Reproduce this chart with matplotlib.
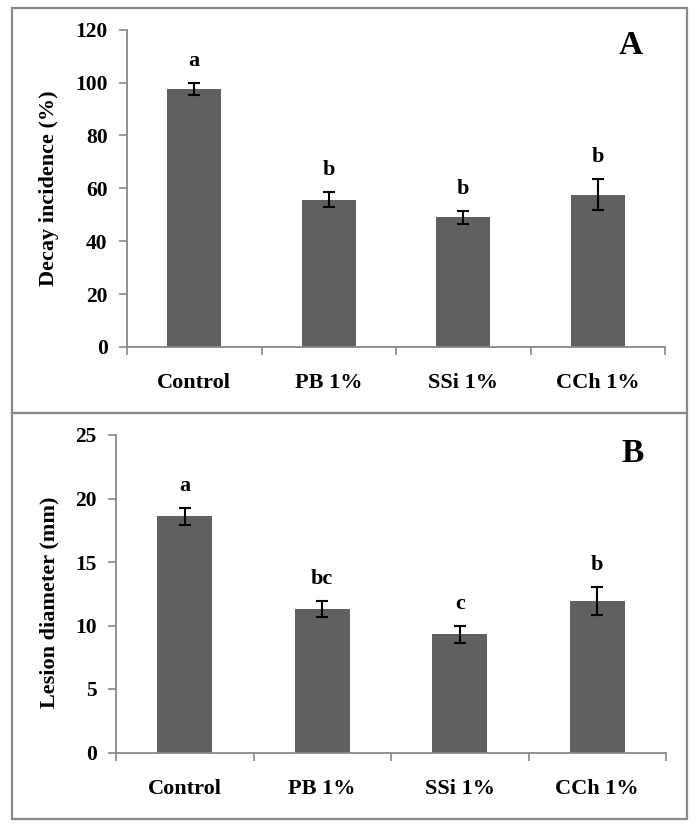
import matplotlib
matplotlib.use("Agg")
import matplotlib.pyplot as plt
from matplotlib.patches import Rectangle

categories = ["Control", "PB 1%", "SSi 1%", "CCh 1%"]
decay_mean = [97.5, 55.7, 49.0, 57.6]
decay_err = [2.4, 2.9, 2.5, 5.8]
decay_letters = ["a", "b", "b", "b"]
lesion_mean = [18.6, 11.3, 9.3, 11.95]
lesion_err = [0.65, 0.62, 0.65, 1.1]
lesion_letters = ["a", "bc", "c", "b"]
decay_ticks = [0, 20, 40, 60, 80, 100, 120]
lesion_ticks = [0, 5, 10, 15, 20, 25]

W, H = 700, 832
plt.rcParams['font.family'] = ['Liberation Serif', 'DejaVu Serif']
plt.rcParams['font.weight'] = 'bold'
fig = plt.figure(figsize=(W / 100, H / 100), dpi=100)

BAR = "#606060"
GRID = "#888888"

def px_rect(l, t, r, b):
    return [l / W, 1 - b / H, (r - l) / W, (b - t) / H]

# panel borders
for (l, t, r, b) in [(12, 8, 687, 413), (12, 413, 687, 819)]:
    fig.patches.append(Rectangle((l / W, 1 - b / H), (r - l) / W, (b - t) / H,
                                 transform=fig.transFigure, fill=False,
                                 edgecolor="#8a8a8a", linewidth=1.6))

def panel(rect, means, errs, letters, ticks, ylabel, tag, ylab_px, tag_px):
    ax = fig.add_axes(px_rect(*rect))
    x = [i + 0.5 for i in range(len(categories))]
    ax.bar(x, means, width=0.4, color=BAR, zorder=2)
    ax.errorbar(x, means, yerr=errs, fmt='none', ecolor='black',
                elinewidth=1.5, capsize=4, capthick=1.5, zorder=3)
    for xi, m, e, lab in zip(x, means, errs, letters):
        ax.annotate(lab, (xi, m + e), xytext=(0, 16), textcoords='offset points',
                    ha='center', va='center', fontsize=16, fontweight='bold')
    ax.set_xlim(0, len(categories))
    ax.set_ylim(ticks[0], ticks[-1])
    ax.set_yticks(ticks)
    ax.set_yticklabels([str(t) for t in ticks], fontsize=15.5, fontweight='bold')
    ax.set_xticks(x)
    ax.set_xticklabels(categories, fontsize=16, fontweight='bold')
    ax.set_xticks(range(len(categories) + 1), minor=True)
    ax.tick_params(axis='x', which='major', length=0, pad=19)
    ax.tick_params(axis='x', which='minor', length=6, width=1.2, color=GRID, direction='out')
    ax.tick_params(axis='y', length=6, width=1.2, color=GRID, direction='out', pad=8)
    for s in ['top', 'right']:
        ax.spines[s].set_visible(False)
    for s in ['left', 'bottom']:
        ax.spines[s].set_color(GRID)
        ax.spines[s].set_linewidth(1.3)
    fig.text(ylab_px[0] / W, 1 - ylab_px[1] / H, ylabel, rotation=90,
             ha='center', va='center', fontsize=16, fontweight='bold')
    fig.text(tag_px[0] / W, 1 - tag_px[1] / H, tag, ha='center', va='center',
             fontsize=24, fontweight='bold')
    return ax

panel((127, 29.6, 665, 347), decay_mean, decay_err, decay_letters, decay_ticks,
      "Decay incidence (%)", "A", (49, 188), (631, 45))
panel((116, 435, 666, 752.5), lesion_mean, lesion_err, lesion_letters, lesion_ticks,
      "Lesion diameter (mm)", "B", (49, 602), (633, 453))

fig.savefig("out.png", dpi=100)
